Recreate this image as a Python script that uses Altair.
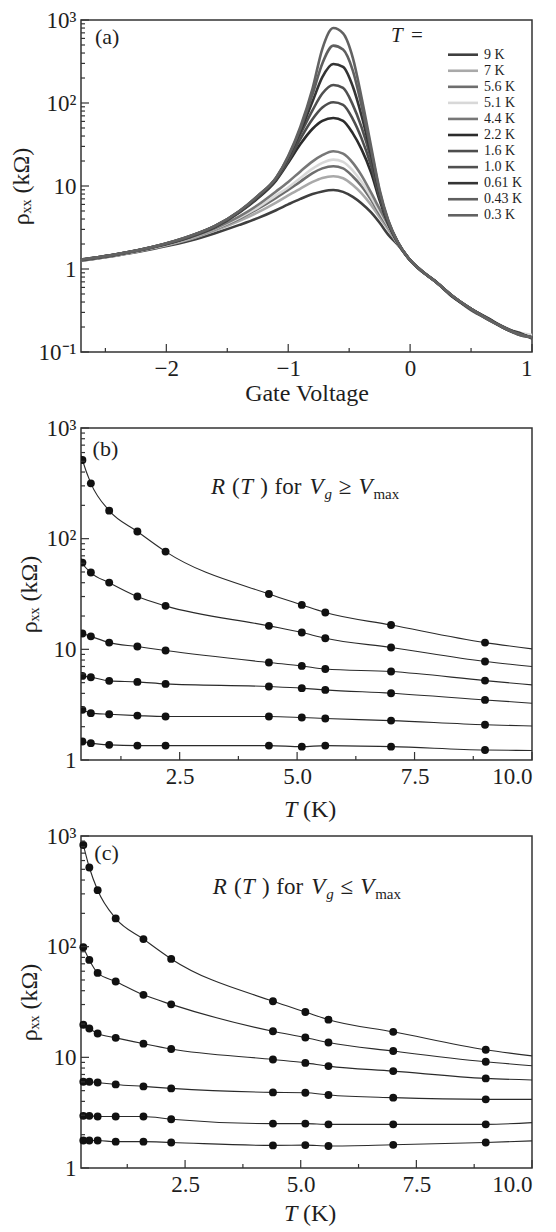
import altair as alt
import pandas as pd

FONT = "Liberation Serif"
INK = "#1e1e1e"
FRAME = "#333333"
W = 451
H = 332

# ---------------- panel (a): rho_xx vs gate voltage ----------------
gate_v = [-2.7, -2.4, -2.1, -1.8, -1.6, -1.4, -1.25, -1.1, -1.0, -0.9, -0.8, -0.72, -0.63,
          -0.55, -0.47, -0.4, -0.32, -0.25, -0.18, -0.1, 0.0, 0.1, 0.2, 0.35, 0.5, 0.65, 0.8, 0.9, 1.0]
temps_a = ["9 K", "7 K", "5.6 K", "5.1 K", "4.4 K", "2.2 K", "1.6 K", "1.0 K", "0.61 K", "0.43 K", "0.3 K"]
colors_a = ["#3f3f3f", "#a9a9a9", "#6e6e6e", "#d8d8d8", "#777777", "#2c2c2c",
            "#4d4d4d", "#505050", "#343434", "#5f5f5f", "#626262"]

rho_9K = [1.26, 1.46, 1.76, 2.20, 2.70, 3.4, 4.1, 5.1, 6.0, 7.0, 8.0, 8.6, 8.95, 8.5, 7.4, 6.2, 4.8, 3.6, 2.6, 1.95, 1.27, 0.94, 0.72, 0.47, 0.33, 0.245, 0.185, 0.165, 0.15]
rho_7K = [1.27, 1.47, 1.79, 2.30, 2.90, 3.8, 4.8, 6.3, 7.7, 9.3, 11.2, 12.5, 13.1, 12.4, 10.3, 8.2, 5.9, 4.2, 3.0, 2.0, 1.28, 0.93, 0.72, 0.47, 0.33, 0.25, 0.19, 0.17, 0.155]
rho_5p6K = [1.27, 1.48, 1.81, 2.35, 3.00, 4.05, 5.3, 7.2, 9.0, 11.3, 14.3, 16.3, 17.3, 16.3, 13.0, 10.0, 6.8, 4.6, 3.2, 2.05, 1.28, 0.93, 0.72, 0.47, 0.33, 0.245, 0.185, 0.165, 0.15]
rho_5p1K = [1.28, 1.48, 1.82, 2.37, 3.05, 4.15, 5.5, 7.7, 9.6, 12.5, 16.2, 19.0, 20.8, 19.5, 15.3, 11.3, 7.4, 4.9, 3.3, 2.05, 1.28, 0.93, 0.72, 0.47, 0.33, 0.25, 0.19, 0.17, 0.16]
rho_4p4K = [1.28, 1.49, 1.83, 2.40, 3.10, 4.3, 5.9, 8.6, 11.2, 15.0, 19.8, 23.5, 26.2, 24.5, 19.0, 13.5, 8.3, 5.3, 3.4, 2.05, 1.28, 0.93, 0.72, 0.46, 0.33, 0.245, 0.185, 0.165, 0.15]
rho_2p2K = [1.28, 1.50, 1.84, 2.45, 3.20, 4.8, 7.1, 11.6, 19.0, 32.0, 49.0, 61.0, 66.0, 61.0, 43.0, 28.0, 14.5, 6.7, 3.5, 2.05, 1.28, 0.93, 0.72, 0.47, 0.33, 0.245, 0.19, 0.165, 0.15]
rho_1p6K = [1.29, 1.50, 1.85, 2.47, 3.25, 4.85, 7.3, 12.0, 20.0, 37.0, 64.0, 88.0, 102.0, 95.0, 64.0, 38.0, 17.5, 7.2, 3.6, 2.05, 1.28, 0.94, 0.72, 0.47, 0.33, 0.24, 0.185, 0.16, 0.15]
rho_1p0K = [1.29, 1.51, 1.85, 2.48, 3.28, 4.9, 7.4, 12.2, 21.0, 42.0, 82.0, 130.0, 165.0, 152.0, 95.0, 52.0, 21.0, 7.7, 3.7, 2.1, 1.28, 0.93, 0.72, 0.47, 0.32, 0.245, 0.19, 0.165, 0.15]
rho_0p61K = [1.30, 1.51, 1.86, 2.50, 3.30, 4.95, 7.5, 12.4, 22.0, 46.0, 105.0, 205.0, 295.0, 272.0, 158.0, 72.0, 24.0, 8.2, 3.8, 2.1, 1.28, 0.93, 0.73, 0.46, 0.33, 0.25, 0.185, 0.17, 0.145]
rho_0p43K = [1.29, 1.51, 1.86, 2.51, 3.31, 5.0, 7.6, 12.5, 22.5, 49.0, 128.0, 300.0, 491.0, 440.0, 245.0, 95.0, 27.0, 8.6, 3.8, 2.1, 1.28, 0.94, 0.72, 0.47, 0.33, 0.24, 0.19, 0.16, 0.15]
rho_0p3K = [1.30, 1.51, 1.86, 2.51, 3.31, 5.0, 7.6, 12.6, 23.0, 52.0, 150.0, 450.0, 800.0, 690.0, 350.0, 120.0, 30.0, 9.0, 3.9, 2.1, 1.28, 0.93, 0.72, 0.47, 0.33, 0.245, 0.185, 0.165, 0.15]
curves_a = [rho_9K, rho_7K, rho_5p6K, rho_5p1K, rho_4p4K, rho_2p2K,
            rho_1p6K, rho_1p0K, rho_0p61K, rho_0p43K, rho_0p3K]

# ---------------- panels (b), (c): rho_xx vs T ----------------
t_pts = [0.3, 0.43, 0.61, 1.0, 1.6, 2.2, 4.4, 5.1, 5.6, 7.0, 9.0]
t_end = 10.0
b1 = [830, 514, 316, 179, 116, 76.4, 31.6, 25.2, 21.5, 16.6, 11.5]
b2 = [90, 60.8, 49.4, 40.1, 30.0, 24.7, 16.3, 14.2, 12.6, 10.4, 7.77]
b3 = [14.3, 13.9, 13.1, 11.5, 10.6, 9.75, 7.60, 7.08, 6.65, 6.30, 5.22]
b4 = [5.9, 5.75, 5.60, 5.19, 5.08, 4.87, 4.61, 4.46, 4.30, 4.01, 3.49]
b5 = [2.95, 2.84, 2.65, 2.59, 2.52, 2.47, 2.47, 2.42, 2.37, 2.27, 2.08]
b6 = [1.50, 1.47, 1.42, 1.37, 1.35, 1.35, 1.35, 1.32, 1.35, 1.32, 1.23]
b_end = [10.1, 7.0, 4.77, 3.26, 2.03, 1.22]

c1 = [830, 519, 324, 180, 117, 77.5, 32.1, 25.7, 21.9, 17.0, 11.7]
c2 = [98.8, 75.9, 57.9, 48.5, 36.7, 30.1, 17.2, 15.1, 13.6, 11.4, 9.12]
c3 = [19.7, 18.2, 16.4, 15.0, 13.3, 11.9, 9.56, 8.91, 8.33, 7.51, 6.45]
c4 = [6.02, 6.02, 5.93, 5.69, 5.46, 5.24, 4.82, 4.79, 4.57, 4.32, 4.17]
c5 = [2.96, 2.96, 2.92, 2.92, 2.92, 2.76, 2.52, 2.52, 2.48, 2.48, 2.48]
c6 = [1.77, 1.77, 1.77, 1.73, 1.73, 1.70, 1.60, 1.61, 1.58, 1.62, 1.70]
c_end = [10.3, 8.40, 6.23, 4.17, 2.57, 1.76]

# tick values
y_major_a = [0.1, 1, 10, 100, 1000]
y_minor_a = [0.2, 0.3, 0.4, 0.5, 0.6, 0.7, 0.8, 0.9, 2, 3, 4, 5, 6, 7, 8, 9,
             20, 30, 40, 50, 60, 70, 80, 90, 200, 300, 400, 500, 600, 700, 800, 900]
x_major_a = [-2, -1, 0, 1]
x_minor_a = [-2.5, -1.5, -0.5, 0.5]
y_major_bc = [1, 10, 100, 1000]
y_minor_bc = [2, 3, 4, 5, 6, 7, 8, 9, 20, 30, 40, 50, 60, 70, 80, 90,
              200, 300, 400, 500, 600, 700, 800, 900]
x_major_bc = [2.5, 5.0, 7.5, 10.0]
x_minor_bc = [1.25, 3.75, 6.25, 8.75]

LABEL_EXPR = ("datum.value >= 999 ? '10\u00b3' : datum.value >= 99 ? '10\u00b2' : "
              "datum.value >= 9 ? '10' : datum.value >= 0.9 ? '1' : '10\u207b\u00b9'")
Y_TITLE = "\u03c1\u2093\u2093 (k\u03a9)"

AXIS_STYLE = dict(labelFont=FONT, labelFontSize=23, labelColor=INK,
                  titleFont=FONT, titleFontSize=24, titleFontWeight="normal",
                  titleColor=INK, ticks=False, domain=False, grid=False)


def txt(s, x, y, size, style="normal", align="left", baseline="alphabetic"):
    return alt.Chart(pd.DataFrame({"s": [s]})).mark_text(
        align=align, baseline=baseline, font=FONT, fontSize=size,
        fontStyle=style, color=INK).encode(
        x=alt.value(x), y=alt.value(y), text="s:N")


def inner_ticks(xscale, yscale, xmaj, xmin, ymaj, ymin, xf, yf):
    # inward-pointing tick marks; same field names as the data layer so the
    # shared axes are merged
    layers = []
    for vals, ln in ((ymaj, 8), (ymin, 4)):
        layers.append(alt.Chart(pd.DataFrame({yf: vals})).mark_rule(
            color=FRAME, strokeWidth=1.2).encode(
            y=alt.Y(f"{yf}:Q", scale=yscale),
            x=alt.value(0), x2=alt.value(ln)))
    for vals, ln in ((xmaj, 8), (xmin, 4)):
        layers.append(alt.Chart(pd.DataFrame({xf: vals})).mark_rule(
            color=FRAME, strokeWidth=1.2).encode(
            x=alt.X(f"{xf}:Q", scale=xscale),
            y=alt.value(H), y2=alt.value(H - ln)))
    return layers


def y_axis(values):
    return alt.Axis(values=values, labelExpr=LABEL_EXPR, title=Y_TITLE,
                    labelPadding=5, titlePadding=5, **AXIS_STYLE)


# ---- panel (a)
rows = []
for name, vals in zip(temps_a, curves_a):
    for v, r in zip(gate_v, vals):
        rows.append({"Vg": v, "rho": r, "T": name})
df_a = pd.DataFrame(rows)

xs_a = alt.Scale(domain=[-2.7, 1.0], nice=False, zero=False)
ys_a = alt.Scale(type="log", domain=[0.1, 1000], nice=False)
col_a = alt.Scale(domain=temps_a, range=colors_a)

lines_a = alt.Chart(df_a).mark_line(strokeWidth=2.6, interpolate="monotone").encode(
    x=alt.X("Vg:Q", scale=xs_a,
            axis=alt.Axis(values=x_major_a, format="d", title="Gate Voltage",
                          labelPadding=5, titlePadding=1, **AXIS_STYLE)),
    y=alt.Y("rho:Q", scale=ys_a, axis=y_axis(y_major_a)),
    color=alt.Color("T:N", scale=col_a, legend=None),
    order=alt.Order("Vg:Q"),
)

inner_a = alt.layer(
    lines_a,
    *inner_ticks(xs_a, ys_a, x_major_a, x_minor_a, y_major_a, y_minor_a, "Vg", "rho"),
    txt("(a)", 14, 17, 22, baseline="middle"),
    txt("T", 310, 16, 21, style="italic", baseline="middle"),
    txt("=", 330, 16, 21, baseline="middle"),
)

leg_df = pd.DataFrame({"T": temps_a, "idx": list(range(len(temps_a)))})
leg_y = alt.Scale(domain=[0, 10], range=[34.7, 195.3])
leg_rules = alt.Chart(leg_df).mark_rule(strokeWidth=2.6).encode(
    y=alt.Y("idx:Q", scale=leg_y, axis=None),
    x=alt.value(367), x2=alt.value(397),
    color=alt.Color("T:N", scale=col_a, legend=None))
leg_text = alt.Chart(leg_df).mark_text(
    align="left", baseline="middle", font=FONT, fontSize=14, color=INK).encode(
    y=alt.Y("idx:Q", scale=leg_y, axis=None),
    x=alt.value(403), text="T:N")

chart_a = alt.layer(inner_a, leg_rules, leg_text).resolve_scale(
    y="independent").properties(width=W, height=H)


# ---- panels (b) and (c)
def t_panel(curves, ends, xdomain, tag, tag_xy, rel, ann_x, ann_y, title_y, clip):
    line_rows, dot_rows = [], []
    for k, (vals, e) in enumerate(zip(curves, ends)):
        for t, r in zip(t_pts, vals):
            line_rows.append({"T": t, "rho": r, "curve": k})
            dot_rows.append({"T": t, "rho": r, "curve": k})
        line_rows.append({"T": t_end, "rho": e, "curve": k})
    df_l = pd.DataFrame(line_rows)
    df_d = pd.DataFrame(dot_rows)
    xs = alt.Scale(domain=xdomain, nice=False, zero=False)
    ys = alt.Scale(type="log", domain=[1, 1000], nice=False)
    lines = alt.Chart(df_l).mark_line(
        color="#2a2a2a", strokeWidth=1.1, interpolate="monotone", clip=clip).encode(
        x=alt.X("T:Q", scale=xs,
                axis=alt.Axis(values=x_major_bc, format=".1f", title=None,
                              labelPadding=5, **AXIS_STYLE)),
        y=alt.Y("rho:Q", scale=ys, axis=y_axis(y_major_bc)),
        detail="curve:N", order=alt.Order("T:Q"))
    dots = alt.Chart(df_d).mark_circle(color="#111111", size=62, opacity=1, clip=clip).encode(
        x=alt.X("T:Q", scale=xs), y=alt.Y("rho:Q", scale=ys), detail="curve:N")
    pieces = [("R", 0, 23, "italic", 0), ("(", 21.1, 23, "normal", 0),
              ("T", 29.3, 23, "italic", 0), (")", 49.2, 23, "normal", 0),
              ("for", 63.5, 23, "normal", 0), ("V", 98.4, 23, "italic", 0),
              ("g", 113.4, 15, "italic", 5), (rel, 127.7, 23, "normal", 0),
              ("V", 147.4, 23, "italic", 0), ("max", 162.4, 15, "normal", 5)]
    ann = [txt(s, ann_x + dx, ann_y + dy, fs, style=st) for s, dx, fs, st, dy in pieces]
    return alt.layer(
        lines, dots,
        *inner_ticks(xs, ys, x_major_bc, x_minor_bc, y_major_bc, y_minor_bc, "T", "rho"),
        txt(tag, tag_xy[0], tag_xy[1], 22, baseline="middle"),
        *ann,
        txt("T", 203, title_y, 24, style="italic"),
        txt("(K)", 222, title_y, 24),
    ).properties(width=W, height=H)


chart_b = t_panel([b1, b2, b3, b4, b5, b6], b_end, [0.4, 10.0], "(b)", (11.6, 21),
                  "\u2265", 130, 65.5, 389, True)
chart_c = t_panel([c1, c2, c3, c4, c5, c6], c_end, [0.25, 10.0], "(c)", (13.3, 17),
                  "\u2264", 131.8, 57.5, 385, False)

chart = alt.vconcat(chart_a, chart_b, chart_c, spacing=76, bounds="flush").properties(
    padding={"left": 0, "top": 0, "right": 0, "bottom": 0},
    background="white",
).configure(
    font=FONT,
    style={"guide-label": {"font": FONT, "fill": INK},
           "guide-title": {"font": FONT, "fill": INK}},
).configure_view(
    stroke=FRAME, strokeWidth=1.5
).configure_axis(**AXIS_STYLE)

chart.save("out.html", embed_options={"renderer": "svg", "actions": False})
